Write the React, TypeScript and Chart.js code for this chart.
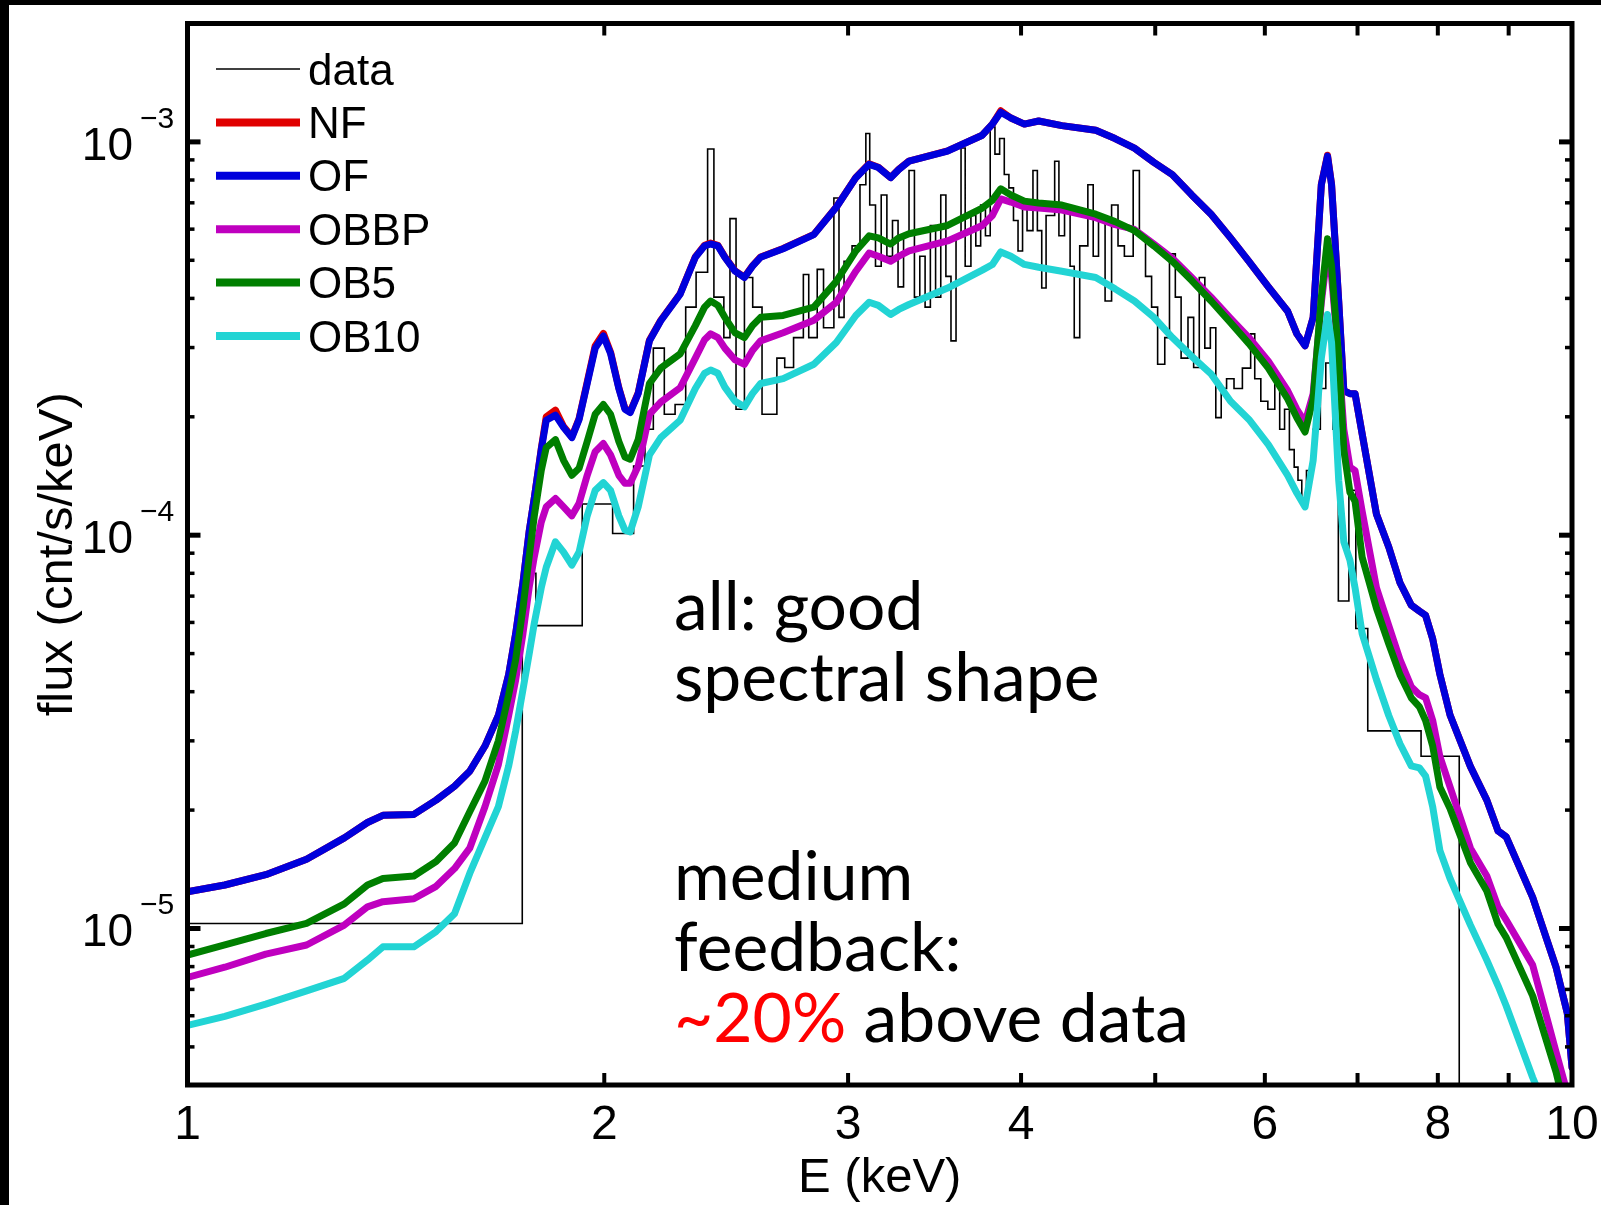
import React, { useEffect, useRef } from "react";
import { Chart, registerables } from "chart.js";

Chart.register(...registerables);

const CANVAS_W = 1601;
const CANVAS_H = 1205;

const X_MIN = 1;
const X_MAX = 10;
const Y_MIN = 4e-6;
const Y_MAX = 2e-3;

const X_TICK_VALUES = [1, 2, 3, 4, 5, 6, 7, 8, 9, 10];
const X_TICK_LABELS = ["1", "2", "3", "4", "", "6", "", "8", "", "10"];
const Y_DECADES = [1e-5, 1e-4, 1e-3];
const Y_DECADE_EXP = ["\u22125", "\u22124", "\u22123"];

const SERIES_NAMES = ["data", "NF", "OF", "OBBP", "OB5", "OB10"];
const SERIES_COLORS = ["#000000", "#e00000", "#0000dc", "#bf00bf", "#007f00", "#22d4d4"];

// model energy grid (keV)
const ENERGY = [
  1.0, 1.064, 1.139, 1.219, 1.298, 1.349, 1.384, 1.457, 1.512, 1.559,
  1.599, 1.64, 1.677, 1.706, 1.726, 1.747, 1.765, 1.78, 1.801, 1.816,
  1.844, 1.869, 1.895, 1.918, 1.944, 1.97, 1.997, 2.021, 2.049, 2.07,
  2.088, 2.116, 2.156, 2.197, 2.269, 2.327, 2.363, 2.387, 2.416, 2.444,
  2.486, 2.525, 2.559, 2.594, 2.693, 2.834, 2.942, 3.039, 3.107, 3.155,
  3.22, 3.264, 3.32, 3.54, 3.75, 3.814, 3.867, 3.933, 4.022, 4.119,
  4.281, 4.529, 4.677, 4.83, 4.989, 5.144, 5.313, 5.487, 5.667, 5.843,
  6.035, 6.232, 6.328, 6.415, 6.502, 6.591, 6.659, 6.704, 6.784, 6.842,
  6.912, 6.971, 7.054, 7.224, 7.373, 7.512, 7.654, 7.759, 7.839, 7.932,
  8.027, 8.164, 8.446, 8.679, 8.843, 8.964, 9.367, 9.739, 9.922, 10.0,
];

const NF = [
  1.24e-5, 1.29e-5, 1.37e-5, 1.5e-5, 1.7e-5, 1.86e-5, 1.94e-5, 1.95e-5, 2.12e-5, 2.3e-5,
  2.51e-5, 2.91e-5, 3.48e-5, 4.42e-5, 5.62e-5, 7.57e-5, 1.02e-4, 1.24e-4, 1.66e-4, 2.0e-4,
  2.08e-4, 1.89e-4, 1.78e-4, 1.98e-4, 2.45e-4, 3.03e-4, 3.26e-4, 2.92e-4, 2.37e-4, 2.1e-4,
  2.06e-4, 2.3e-4, 3.13e-4, 3.52e-4, 4.11e-4, 5.1e-4, 5.46e-4, 5.53e-4, 5.46e-4, 5.1e-4,
  4.7e-4, 4.53e-4, 4.84e-4, 5.1e-4, 5.36e-4, 5.82e-4, 6.83e-4, 8.12e-4, 8.8e-4, 8.62e-4,
  8.12e-4, 8.52e-4, 8.94e-4, 9.49e-4, 1.04e-3, 1.11e-3, 1.2e-3, 1.15e-3, 1.11e-3, 1.13e-3,
  1.1e-3, 1.07e-3, 1.02e-3, 9.64e-4, 8.87e-4, 8.26e-4, 7.33e-4, 6.55e-4, 5.7e-4, 4.97e-4,
  4.28e-4, 3.71e-4, 3.25e-4, 3.03e-4, 3.58e-4, 7.8e-4, 9.25e-4, 7.8e-4, 3.94e-4, 2.33e-4,
  2.29e-4, 2.29e-4, 1.81e-4, 1.13e-4, 9.33e-5, 7.57e-5, 6.64e-5, 6.41e-5, 6.25e-5, 5.45e-5,
  4.43e-5, 3.49e-5, 2.58e-5, 2.12e-5, 1.77e-5, 1.71e-5, 1.2e-5, 7.96e-6, 6.09e-6, 4.44e-6,
];

const OF = [
  1.24e-5, 1.29e-5, 1.37e-5, 1.5e-5, 1.7e-5, 1.86e-5, 1.94e-5, 1.95e-5, 2.12e-5, 2.3e-5,
  2.51e-5, 2.91e-5, 3.48e-5, 4.42e-5, 5.62e-5, 7.57e-5, 1.02e-4, 1.24e-4, 1.65e-4, 1.96e-4,
  2.02e-4, 1.88e-4, 1.77e-4, 1.97e-4, 2.43e-4, 2.99e-4, 3.21e-4, 2.9e-4, 2.36e-4, 2.09e-4,
  2.05e-4, 2.29e-4, 3.12e-4, 3.51e-4, 4.1e-4, 5.09e-4, 5.44e-4, 5.5e-4, 5.44e-4, 5.09e-4,
  4.69e-4, 4.52e-4, 4.83e-4, 5.09e-4, 5.35e-4, 5.81e-4, 6.82e-4, 8.11e-4, 8.77e-4, 8.61e-4,
  8.11e-4, 8.51e-4, 8.93e-4, 9.48e-4, 1.04e-3, 1.11e-3, 1.19e-3, 1.15e-3, 1.11e-3, 1.13e-3,
  1.1e-3, 1.07e-3, 1.02e-3, 9.64e-4, 8.87e-4, 8.26e-4, 7.33e-4, 6.55e-4, 5.7e-4, 4.97e-4,
  4.28e-4, 3.71e-4, 3.25e-4, 3.03e-4, 3.58e-4, 7.78e-4, 9.2e-4, 7.78e-4, 3.94e-4, 2.33e-4,
  2.29e-4, 2.29e-4, 1.81e-4, 1.13e-4, 9.33e-5, 7.57e-5, 6.64e-5, 6.41e-5, 6.25e-5, 5.45e-5,
  4.43e-5, 3.49e-5, 2.58e-5, 2.12e-5, 1.77e-5, 1.71e-5, 1.2e-5, 7.96e-6, 6.09e-6, 4.44e-6,
];

const OBBP = [
  7.51e-6, 7.97e-6, 8.61e-6, 9.08e-6, 1.02e-5, 1.135e-5, 1.17e-5, 1.19e-5, 1.28e-5, 1.42e-5,
  1.6e-5, 2.04e-5, 2.61e-5, 3.48e-5, 4.29e-5, 5.62e-5, 7.35e-5, 8.79e-5, 1.08e-4, 1.18e-4,
  1.24e-4, 1.18e-4, 1.12e-4, 1.205e-4, 1.42e-4, 1.63e-4, 1.71e-4, 1.6e-4, 1.42e-4, 1.355e-4,
  1.355e-4, 1.5e-4, 2.03e-4, 2.18e-4, 2.37e-4, 2.82e-4, 3.14e-4, 3.25e-4, 3.18e-4, 2.99e-4,
  2.79e-4, 2.72e-4, 2.95e-4, 3.12e-4, 3.27e-4, 3.52e-4, 3.91e-4, 4.69e-4, 5.22e-4, 5.12e-4,
  4.97e-4, 5.12e-4, 5.28e-4, 5.6e-4, 6.13e-4, 6.5e-4, 7.16e-4, 7.03e-4, 6.83e-4, 6.79e-4,
  6.71e-4, 6.42e-4, 6.16e-4, 5.99e-4, 5.5e-4, 5.06e-4, 4.52e-4, 4.03e-4, 3.56e-4, 3.18e-4,
  2.77e-4, 2.33e-4, 2.09e-4, 1.935e-4, 2.29e-4, 3.91e-4, 5.28e-4, 4.55e-4, 2.82e-4, 1.86e-4,
  1.49e-4, 1.46e-4, 1.15e-4, 7.35e-5, 5.89e-5, 4.83e-5, 4.12e-5, 3.93e-5, 3.86e-5, 3.38e-5,
  2.74e-5, 2.29e-5, 1.6e-5, 1.36e-5, 1.135e-5, 1.05e-5, 8.07e-6, 4.85e-6, 3.82e-6, 3.39e-6,
];

const OB5 = [
  8.56e-6, 9.08e-6, 9.71e-6, 1.03e-5, 1.155e-5, 1.29e-5, 1.34e-5, 1.36e-5, 1.48e-5, 1.65e-5,
  1.98e-5, 2.37e-5, 3.0e-5, 3.93e-5, 4.83e-5, 6.52e-5, 8.79e-5, 1.116e-4, 1.46e-4, 1.67e-4,
  1.75e-4, 1.55e-4, 1.42e-4, 1.48e-4, 1.73e-4, 2.03e-4, 2.15e-4, 2.03e-4, 1.73e-4, 1.58e-4,
  1.56e-4, 1.75e-4, 2.43e-4, 2.66e-4, 2.89e-4, 3.41e-4, 3.8e-4, 3.94e-4, 3.84e-4, 3.58e-4,
  3.27e-4, 3.18e-4, 3.41e-4, 3.58e-4, 3.62e-4, 3.8e-4, 4.42e-4, 5.28e-4, 5.77e-4, 5.7e-4,
  5.5e-4, 5.7e-4, 5.84e-4, 6.13e-4, 6.79e-4, 7.11e-4, 7.6e-4, 7.33e-4, 7.07e-4, 6.99e-4,
  6.91e-4, 6.55e-4, 6.27e-4, 5.95e-4, 5.44e-4, 4.97e-4, 4.44e-4, 3.94e-4, 3.47e-4, 3.07e-4,
  2.66e-4, 2.22e-4, 1.99e-4, 1.83e-4, 2.22e-4, 4.03e-4, 5.67e-4, 4.83e-4, 2.82e-4, 1.65e-4,
  1.285e-4, 1.22e-4, 8.79e-5, 6.52e-5, 5.29e-5, 4.42e-5, 3.86e-5, 3.66e-5, 3.38e-5, 2.91e-5,
  2.29e-5, 2.02e-5, 1.47e-5, 1.245e-5, 1.025e-5, 9.48e-6, 6.74e-6, 4.31e-6, 3.29e-6, 3.01e-6,
];

const OB10 = [
  5.67e-6, 5.98e-6, 6.42e-6, 6.94e-6, 7.47e-6, 8.31e-6, 8.98e-6, 8.98e-6, 9.82e-6, 1.09e-5,
  1.38e-5, 1.7e-5, 2.04e-5, 2.59e-5, 3.18e-5, 4.05e-5, 4.98e-5, 5.96e-5, 7.35e-5, 8.29e-5,
  9.62e-5, 9.06e-5, 8.39e-5, 9.06e-5, 1.12e-4, 1.3e-4, 1.36e-4, 1.3e-4, 1.12e-4, 1.03e-4,
  1.02e-4, 1.18e-4, 1.6e-4, 1.77e-4, 1.96e-4, 2.36e-4, 2.58e-4, 2.63e-4, 2.58e-4, 2.38e-4,
  2.19e-4, 2.12e-4, 2.29e-4, 2.43e-4, 2.5e-4, 2.72e-4, 3.09e-4, 3.62e-4, 3.91e-4, 3.84e-4,
  3.64e-4, 3.75e-4, 3.86e-4, 4.25e-4, 4.72e-4, 4.88e-4, 5.25e-4, 5.12e-4, 4.88e-4, 4.8e-4,
  4.69e-4, 4.52e-4, 4.23e-4, 3.94e-4, 3.58e-4, 3.18e-4, 2.85e-4, 2.57e-4, 2.19e-4, 1.97e-4,
  1.7e-4, 1.42e-4, 1.28e-4, 1.18e-4, 1.55e-4, 2.82e-4, 3.64e-4, 3.09e-4, 1.38e-4, 9.62e-5,
  8.64e-5, 7.35e-5, 5.62e-5, 4.29e-5, 3.48e-5, 2.95e-5, 2.59e-5, 2.56e-5, 2.44e-5, 2.04e-5,
  1.58e-5, 1.34e-5, 1.02e-5, 8.31e-6, 7.15e-6, 6.35e-6, 4.18e-6, 3.01e-6, 2.67e-6, 2.52e-6,
];

// observed spectrum: bin left edges (keV) plus final right edge, and flux per bin
const DATA_EDGES = [
  1.0, 1.745, 1.785, 1.928, 2.028, 2.1, 2.14, 2.17, 2.21, 2.25,
  2.29, 2.33, 2.375, 2.4, 2.44, 2.465, 2.49, 2.525, 2.56, 2.6,
  2.665, 2.7, 2.74, 2.785, 2.81, 2.85, 2.88, 2.93, 2.955, 2.98,
  3.02, 3.06, 3.09, 3.11, 3.14, 3.17, 3.2, 3.23, 3.26, 3.29,
  3.32, 3.35, 3.38, 3.41, 3.44, 3.47, 3.5, 3.53, 3.56, 3.59,
  3.62, 3.645, 3.68, 3.71, 3.74, 3.77, 3.8, 3.83, 3.86, 3.89,
  3.92, 3.95, 3.98, 4.01, 4.04, 4.08, 4.11, 4.14, 4.17, 4.23,
  4.26, 4.3, 4.34, 4.37, 4.41, 4.47, 4.51, 4.55, 4.6, 4.65,
  4.7, 4.75, 4.82, 4.87, 4.92, 4.97, 5.02, 5.08, 5.12, 5.17,
  5.22, 5.28, 5.33, 5.38, 5.43, 5.48, 5.53, 5.58, 5.63, 5.7,
  5.78, 5.86, 5.9, 5.96, 6.03, 6.1, 6.15, 6.2, 6.25, 6.3,
  6.34, 6.38, 6.43, 6.5, 6.58, 6.64, 6.72, 6.78, 6.9, 6.98,
  7.12, 7.78, 8.29, 10.0,
];

const DATA_FLUX = [
  1.03e-5, 8.0e-5, 5.89e-5, 1.2e-4, 1.01e-4, 1.5e-4, 1.86e-4, 2.99e-4, 2.03e-4, 2.15e-4,
  3.8e-4, 4.66e-4, 9.59e-4, 4.03e-4, 3.18e-4, 6.38e-4, 2.09e-4, 4.52e-4, 3.8e-4, 2.03e-4,
  2.82e-4, 2.67e-4, 3.18e-4, 4.6e-4, 3.18e-4, 4.74e-4, 3.37e-4, 7.2e-4, 3.58e-4, 4.97e-4,
  5.44e-4, 7.78e-4, 1.05e-3, 6.91e-4, 4.83e-4, 7.33e-4, 5.12e-4, 6.31e-4, 4.28e-4, 5.77e-4,
  8.46e-4, 4.03e-4, 5.12e-4, 3.8e-4, 6.13e-4, 4.03e-4, 7.33e-4, 4.55e-4, 3.12e-4, 5.77e-4,
  9.65e-4, 4.83e-4, 6.5e-4, 5.44e-4, 6.91e-4, 5.77e-4, 1.09e-3, 9.31e-4, 1.02e-3, 8.26e-4,
  7.64e-4, 6.31e-4, 5.28e-4, 6.91e-4, 5.95e-4, 8.46e-4, 5.95e-4, 4.25e-4, 6.5e-4, 8.93e-4,
  5.77e-4, 6.91e-4, 4.83e-4, 3.18e-4, 5.44e-4, 7.78e-4, 5.12e-4, 6.31e-4, 3.94e-4, 6.91e-4,
  5.44e-4, 5.12e-4, 8.46e-4, 5.77e-4, 4.55e-4, 3.8e-4, 2.72e-4, 3.18e-4, 5.19e-4, 4.03e-4,
  2.82e-4, 3.58e-4, 2.67e-4, 4.52e-4, 2.99e-4, 3.37e-4, 1.99e-4, 2.36e-4, 2.5e-4, 2.36e-4,
  2.66e-4, 3.25e-4, 2.5e-4, 2.19e-4, 2.09e-4, 2.47e-4, 1.86e-4, 2.09e-4, 1.65e-4, 1.49e-4,
  1.38e-4, 1.24e-4, 1.46e-4, 1.86e-4, 2.36e-4, 2.74e-4, 1.86e-4, 6.8e-5, 1.3e-4, 5.79e-5,
  3.18e-5, 2.74e-5, 1.0e-6,
];

const NOTE_LINES = [
  [{ text: "all: good", color: "#000000" }],
  [{ text: "spectral shape", color: "#000000" }],
  [{ text: "medium", color: "#000000" }],
  [{ text: "feedback:", color: "#000000" }],
  [
    { text: "~20%", color: "#ff0000" },
    { text: " above data", color: "#000000" },
  ],
];

const ARIAL = '"Liberation Sans", Arial, Helvetica, sans-serif';
const NOTE_FAMILY = 'Lato, "Open Sans", sans-serif';

function curve(values: number[]) {
  return ENERGY.map((e, i) => ({ x: e, y: values[i] }));
}

function dataSteps() {
  const pts: { x: number; y: number }[] = [];
  for (let i = 0; i < DATA_FLUX.length; i++) pts.push({ x: DATA_EDGES[i], y: DATA_FLUX[i] });
  pts.push({ x: DATA_EDGES[DATA_FLUX.length], y: DATA_FLUX[DATA_FLUX.length - 1] });
  return pts;
}

const decorPlugin = {
  id: "decor",
  beforeDraw(chart: any) {
    const ctx = chart.ctx;
    ctx.save();
    ctx.fillStyle = "#ffffff";
    ctx.fillRect(0, 0, chart.width, chart.height);
    ctx.fillStyle = "#000000";
    ctx.fillRect(0, 0, chart.width, 5);
    ctx.fillRect(0, 0, 9, chart.height);
    ctx.restore();
  },
  afterDraw(chart: any) {
    const ctx = chart.ctx;
    const a = chart.chartArea;
    const xs = chart.scales.x;
    const ys = chart.scales.y;
    ctx.save();
    ctx.strokeStyle = "#000000";
    ctx.lineCap = "butt";
    const seg = (x1: number, y1: number, x2: number, y2: number, w: number) => {
      ctx.lineWidth = w;
      ctx.beginPath();
      ctx.moveTo(x1, y1);
      ctx.lineTo(x2, y2);
      ctx.stroke();
    };
    // x ticks (inward, bottom and top)
    X_TICK_VALUES.forEach((v) => {
      if (v <= X_MIN || v >= X_MAX) return;
      const px = xs.getPixelForValue(v);
      seg(px, a.bottom, px, a.bottom - 12, 4);
      seg(px, a.top, px, a.top + 12, 4);
    });
    // y ticks (inward, left and right)
    for (let d = 1e-6; d < Y_MAX; d *= 10) {
      for (let m = 1; m <= 9; m++) {
        const v = m * d;
        if (v <= Y_MIN * 1.0001 || v >= Y_MAX * 0.9999) continue;
        const py = ys.getPixelForValue(v);
        const major = m === 1;
        const len = major ? 13 : 7;
        const w = major ? 5 : 3.5;
        seg(a.left, py, a.left + len, py, w);
        seg(a.right, py, a.right - len, py, w);
      }
    }
    // frame
    ctx.lineWidth = 5;
    ctx.strokeRect(a.left, a.top, a.right - a.left, a.bottom - a.top);

    // y tick labels 10^n
    ctx.fillStyle = "#000000";
    ctx.textBaseline = "alphabetic";
    Y_DECADES.forEach((v, i) => {
      const py = ys.getPixelForValue(v);
      ctx.font = `46px ${ARIAL}`;
      ctx.textAlign = "right";
      ctx.fillText("10", 133, py + 18);
      ctx.font = `30px ${ARIAL}`;
      ctx.textAlign = "left";
      ctx.fillText(Y_DECADE_EXP[i], 140, py - 14);
    });

    // axis titles
    ctx.font = `49px ${ARIAL}`;
    ctx.textAlign = "center";
    ctx.fillText("E (keV)", (a.left + a.right) / 2, 1192);
    ctx.save();
    ctx.translate(72, (a.top + a.bottom) / 2);
    ctx.rotate(-Math.PI / 2);
    ctx.fillText("flux (cnt/s/keV)", 0, 0);
    ctx.restore();

    // legend
    chart.data.datasets.forEach((ds: any, i: number) => {
      const y = 69 + i * 53.4;
      ctx.strokeStyle = ds.borderColor;
      seg(216, y, 300, y, i === 0 ? 1.6 : 8);
      ctx.fillStyle = "#000000";
      ctx.font = `44px ${ARIAL}`;
      ctx.textAlign = "left";
      ctx.fillText(ds.label, 308, y + 15.5);
    });

    // annotation text
    ctx.font = `100px ${NOTE_FAMILY}`;
    const refW = ctx.measureText("~20% above data").width;
    const size = (100 * 515) / refW;
    ctx.font = `${size}px ${NOTE_FAMILY}`;
    ctx.textAlign = "left";
    const baselines = [630, 701, 900, 971, 1042];
    NOTE_LINES.forEach((parts, li) => {
      let x = 674;
      parts.forEach((p) => {
        ctx.fillStyle = p.color;
        ctx.fillText(p.text, x, baselines[li]);
        x += ctx.measureText(p.text).width;
      });
    });
    ctx.restore();
  },
};

export default function App() {
  const canvasRef = useRef<HTMLCanvasElement | null>(null);

  useEffect(() => {
    document.body.style.margin = "0";
    const canvas = canvasRef.current;
    if (!canvas) return;
    const seriesValues = [null, NF, OF, OBBP, OB5, OB10];
    const datasets: any[] = SERIES_NAMES.map((name, i) => {
      if (i === 0) {
        return {
          label: name,
          data: dataSteps(),
          borderColor: SERIES_COLORS[0],
          backgroundColor: SERIES_COLORS[0],
          borderWidth: 1.6,
          stepped: "before",
          pointRadius: 0,
          fill: false,
          order: 6,
          clip: 0,
        };
      }
      return {
        label: name,
        data: curve(seriesValues[i] as number[]),
        borderColor: SERIES_COLORS[i],
        backgroundColor: SERIES_COLORS[i],
        borderWidth: 7,
        borderJoinStyle: "round",
        borderCapStyle: "round",
        pointRadius: 0,
        tension: 0,
        fill: false,
        order: 6 - i,
        clip: 0,
      };
    });

    const chart = new Chart(canvas, {
      type: "line",
      data: { datasets },
      options: {
        responsive: false,
        animation: false,
        devicePixelRatio: 1,
        events: [],
        layout: { padding: { left: 187.5, top: 23.5, right: 29, bottom: 0 } },
        plugins: {
          legend: { display: false },
          tooltip: { enabled: false },
          title: { display: false },
        },
        scales: {
          x: {
            type: "logarithmic",
            min: X_MIN,
            max: X_MAX,
            position: "bottom",
            afterBuildTicks: (scale: any) => {
              scale.ticks = X_TICK_VALUES.map((v) => ({ value: v }));
            },
            afterFit: (scale: any) => {
              scale.height = 120;
              scale.paddingLeft = 0;
              scale.paddingRight = 0;
            },
            grid: { display: false, drawTicks: false },
            border: { display: false },
            ticks: {
              autoSkip: false,
              maxRotation: 0,
              minRotation: 0,
              padding: 12,
              color: "#000000",
              font: { family: ARIAL, size: 48 },
              callback: (value: any) => {
                const idx = X_TICK_VALUES.indexOf(Number(value));
                return idx >= 0 ? X_TICK_LABELS[idx] : "";
              },
            },
          },
          y: {
            type: "logarithmic",
            min: Y_MIN,
            max: Y_MAX,
            display: false,
          },
        },
      } as any,
      plugins: [decorPlugin],
    });
    return () => chart.destroy();
  }, []);

  return (
    <div style={{ width: CANVAS_W, height: CANVAS_H, background: "#ffffff" }}>
      <canvas
        ref={canvasRef}
        width={CANVAS_W}
        height={CANVAS_H}
        style={{ display: "block", width: CANVAS_W, height: CANVAS_H }}
      />
    </div>
  );
}
